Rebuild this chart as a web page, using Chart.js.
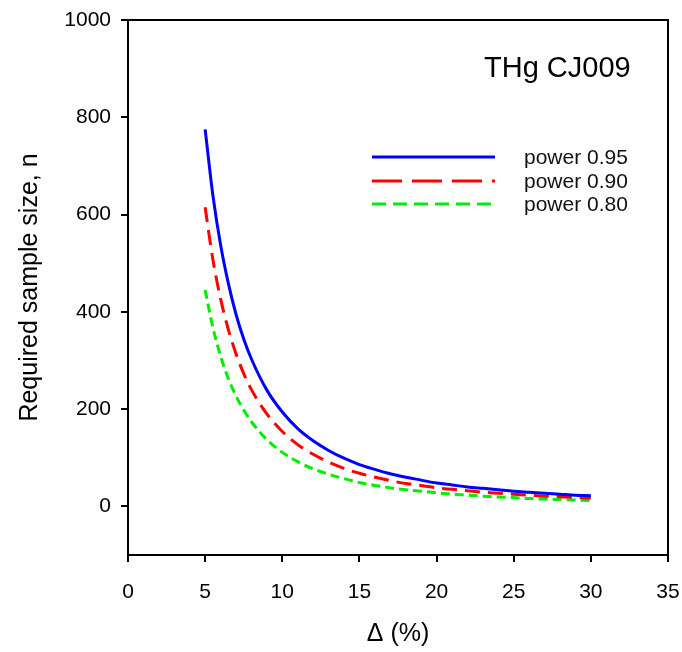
<!DOCTYPE html>
<html>
<head>
<meta charset="utf-8">
<script src="https://cdn.jsdelivr.net/npm/chart.js@4.4.0/dist/chart.umd.min.js"></script>
<style>
  html, body { margin: 0; padding: 0; background: #fff; }
  #wrap { width: 682px; height: 652px; }
</style>
</head>
<body>
<div id="wrap"><canvas id="c" width="682" height="652"></canvas></div>
<script>
// Δ (%) values
var deltas = [5, 5.5, 6, 6.5, 7, 7.5, 8, 9, 10, 11, 12, 13, 14, 15, 16, 17, 18, 19, 20, 21, 22, 23, 24, 25, 26, 27, 28, 29, 30];
// required sample size
var power95 = [775, 640, 538, 459, 395, 344, 303, 239, 194, 160, 135, 115, 99, 86, 76, 67, 60, 54, 48, 44, 40, 37, 34, 31, 29, 27, 25, 23, 22];
var power90 = [615, 508, 427, 364, 314, 273, 240, 190, 154, 127, 107, 91, 78, 68, 60, 53, 47, 43, 38, 35, 32, 29, 27, 25, 23, 21, 20, 18, 17];
var power80 = [445, 368, 309, 263, 227, 198, 174, 137, 111, 92, 77, 66, 57, 49, 43, 38, 34, 31, 28, 25, 23, 21, 19, 18, 16, 15, 14, 13, 12];
var seriesNames = ["power 0.95", "power 0.90", "power 0.80"];
var yTicks = [0, 200, 400, 600, 800, 1000];
var chartTitle = "THg CJ009";

function pts(vals) {
  return deltas.map(function (d, i) { return { x: d, y: vals[i] }; });
}

var FONT = "'Liberation Sans', Arial, sans-serif";

// title text + legend inside the frame, like the original plot
var overlay = {
  id: "overlay",
  afterDraw: function (chart) {
    var ctx = chart.ctx;
    var a = chart.chartArea;
    ctx.save();
    // frame (top + right)
    ctx.strokeStyle = "#000";
    ctx.lineWidth = 2;
    ctx.beginPath();
    ctx.moveTo(a.left, a.top);
    ctx.lineTo(a.right, a.top);
    ctx.lineTo(a.right, a.bottom);
    ctx.stroke();

    ctx.fillStyle = "#000";
    ctx.font = "29px " + FONT;
    ctx.textBaseline = "alphabetic";
    ctx.fillText(chartTitle, 484, 77);

    var legendDash = [[], [30, 10], [14, 7]];
    var rowsY = [157, 181, 204];
    ctx.font = "21px " + FONT;
    chart.data.datasets.forEach(function (ds, i) {
      ctx.strokeStyle = ds.borderColor;
      ctx.lineWidth = 3;
      ctx.setLineDash(legendDash[i]);
      ctx.beginPath();
      ctx.moveTo(372, rowsY[i]);
      ctx.lineTo(495, rowsY[i]);
      ctx.stroke();
      ctx.setLineDash([]);
      ctx.fillStyle = "#111";
      ctx.textBaseline = "middle";
      ctx.fillText(ds.label, 524, rowsY[i] + 1);
    });
    ctx.restore();
  }
};

new Chart(document.getElementById("c"), {
  type: "line",
  data: {
    datasets: [
      { label: seriesNames[0], data: pts(power95), borderColor: "#0000ff", borderWidth: 3, pointRadius: 0, fill: false, cubicInterpolationMode: "monotone" },
      { label: seriesNames[1], data: pts(power90), borderColor: "#ff0000", borderWidth: 3, borderDash: [15, 8], pointRadius: 0, fill: false, cubicInterpolationMode: "monotone" },
      { label: seriesNames[2], data: pts(power80), borderColor: "#00ee00", borderWidth: 3, borderDash: [9, 5], pointRadius: 0, fill: false, cubicInterpolationMode: "monotone" }
    ]
  },
  options: {
    responsive: false,
    animation: false,
    layout: { padding: { top: 20, right: 14, left: 0, bottom: 0 } },
    plugins: { legend: { display: false }, tooltip: { enabled: false } },
    scales: {
      x: {
        type: "linear",
        min: 0,
        max: 35,
        ticks: { stepSize: 5, color: "#000", font: { size: 21, family: FONT }, padding: 18, maxRotation: 0 },
        grid: { drawOnChartArea: false, drawTicks: true, tickLength: 7, color: "#000", lineWidth: 2 },
        border: { color: "#000", width: 2 },
        title: { display: true, text: "Δ (%)", color: "#000", font: { size: 25, family: FONT }, padding: { top: 0, bottom: 3 } },
        afterFit: function (s) { s.height = 97; s.paddingLeft = 0; s.paddingRight = 0; }
      },
      y: {
        type: "linear",
        min: -100,
        max: 1000,
        afterBuildTicks: function (s) { s.ticks = yTicks.map(function (v) { return { value: v }; }); },
        ticks: { color: "#000", font: { size: 21, family: FONT }, padding: 10, callback: function (v) { return String(v); } },
        grid: { drawOnChartArea: false, drawTicks: true, tickLength: 7, color: "#000", lineWidth: 2 },
        border: { color: "#000", width: 2 },
        title: { display: true, text: "Required sample size, n", color: "#000", font: { size: 25, family: FONT }, padding: { top: 15, bottom: 0 } },
        afterFit: function (s) { s.width = 128; s.paddingTop = 0; s.paddingBottom = 0; }
      }
    }
  },
  plugins: [overlay]
});
</script>
</body>
</html>
